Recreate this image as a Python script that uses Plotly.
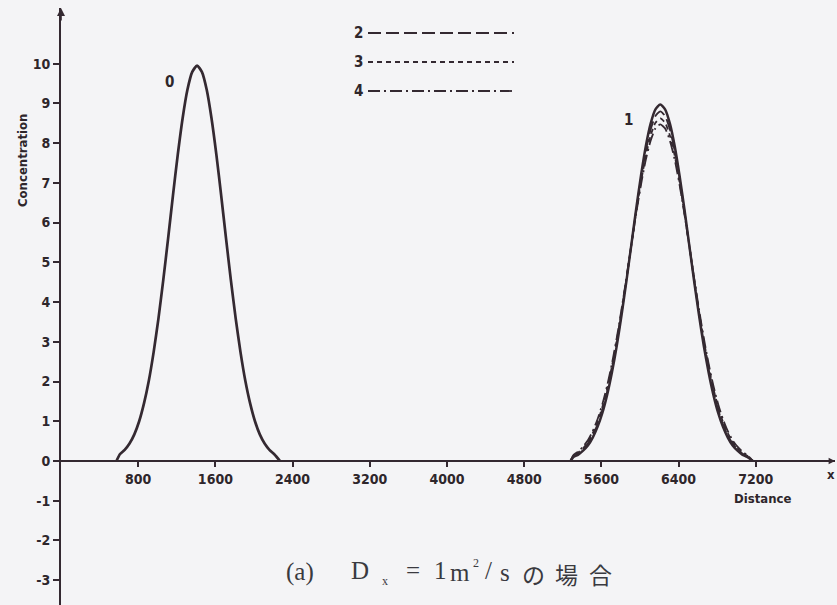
import plotly.graph_objects as go

# ---------------- data ----------------
# curve 0 : initial concentration distribution
x_curve0 = [575, 610, 660, 710, 760, 810, 860, 910, 960, 1010, 1060, 1110, 1160,
            1210, 1260, 1310, 1360, 1410, 1460, 1510, 1560, 1610, 1660, 1710,
            1760, 1810, 1860, 1910, 1960, 2010, 2060, 2110, 2160, 2210, 2270]
c_curve0 = [0.0, 0.17, 0.28, 0.44, 0.67, 1.00, 1.45, 2.02, 2.74, 3.59, 4.56, 5.60,
            6.68, 7.71, 8.62, 9.34, 9.79, 9.95, 9.79, 9.34, 8.62, 7.71, 6.68, 5.60,
            4.56, 3.59, 2.74, 2.02, 1.45, 1.00, 0.67, 0.44, 0.28, 0.17, 0.0]

# curves 1-4 : distributions after transport (shared distance samples)
x_right = [5280, 5310, 5360, 5410, 5460, 5510, 5560, 5610, 5660, 5710, 5760, 5810,
           5860, 5910, 5960, 6010, 6060, 6110, 6160, 6210, 6260, 6310, 6360, 6410,
           6460, 6510, 6560, 6610, 6660, 6710, 6760, 6810, 6860, 6910, 6960, 7010,
           7060, 7110, 7170]
c_curve1 = [0.0, 0.10, 0.16, 0.26, 0.39, 0.59, 0.86, 1.21, 1.67, 2.24, 2.91, 3.69,
            4.54, 5.44, 6.34, 7.18, 7.92, 8.49, 8.85, 8.97, 8.85, 8.49, 7.92, 7.18,
            6.34, 5.44, 4.54, 3.69, 2.91, 2.24, 1.67, 1.21, 0.86, 0.59, 0.39, 0.26,
            0.16, 0.10, 0.0]
c_curve2 = [0.0, 0.12, 0.19, 0.29, 0.44, 0.64, 0.92, 1.29, 1.75, 2.32, 2.98, 3.74,
            4.58, 5.44, 6.30, 7.11, 7.80, 8.34, 8.68, 8.80, 8.68, 8.34, 7.80, 7.11,
            6.30, 5.44, 4.58, 3.74, 2.98, 2.32, 1.75, 1.29, 0.92, 0.64, 0.44, 0.29,
            0.19, 0.12, 0.0]
c_curve3 = [0.0, 0.13, 0.21, 0.32, 0.48, 0.70, 0.98, 1.36, 1.82, 2.39, 3.05, 3.79,
            4.59, 5.43, 6.25, 7.02, 7.68, 8.19, 8.51, 8.62, 8.51, 8.19, 7.68, 7.02,
            6.25, 5.43, 4.59, 3.79, 3.05, 2.39, 1.82, 1.36, 0.98, 0.70, 0.48, 0.32,
            0.21, 0.13, 0.0]
c_curve4 = [0.0, 0.15, 0.24, 0.36, 0.52, 0.75, 1.05, 1.43, 1.90, 2.46, 3.11, 3.84,
            4.62, 5.43, 6.22, 6.95, 7.58, 8.06, 8.37, 8.47, 8.37, 8.06, 7.58, 6.95,
            6.22, 5.43, 4.62, 3.84, 3.11, 2.46, 1.90, 1.43, 1.05, 0.75, 0.52, 0.36,
            0.24, 0.15, 0.0]

x_tick_vals = [800, 1600, 2400, 3200, 4000, 4800, 5600, 6400, 7200]
x_tick_text = ["800", "1600", "2400", "3200", "4000", "4800", "5600", "6400", "7200"]
y_tick_vals = [-3, -2, -1, 0, 1, 2, 3, 4, 5, 6, 7, 8, 9, 10]
y_tick_text = ["-3", "-2", "-1", "0", "1", "2", "3", "4", "5", "6", "7", "8", "9", "10"]

legend_names = ["2", "3", "4"]
curve_labels = ["0", "1"]
caption_tokens = ["(a)", "D", "x", "=", "1", "m", "2", "/", "s", "の", "場", "合"]

# ---------------- layout helpers ----------------
W, H = 837, 605
ML, MR, MT, MB = 61, 2, 8, 0
PW, PH = W - ML - MR, H - MT - MB
Y0_PX = 461          # pixel row of concentration 0
PX_PER_Y = 39.74     # pixels per concentration unit
PX_PER_X = 0.0965    # pixels per distance unit


def pxx(x):
    return (x - ML) / PW


def pxy(y):
    return (H - MB - y) / PH


INK = "#342931"
BG = "#f4f4f6"
TICK_FONT = dict(family="DejaVu Sans Condensed, Liberation Sans Narrow, DejaVu Sans",
                 size=14, color="#2e262b", weight="bold")
LABEL_FONT = dict(family="DejaVu Sans Condensed, Liberation Sans Narrow, DejaVu Sans",
                  size=13, color="#2e262b", weight="bold")

fig = go.Figure()

fig.add_trace(go.Scatter(x=x_curve0, y=c_curve0, mode="lines", name="0",
                         line=dict(color=INK, width=2.7, shape="spline", smoothing=0.6)))

dash_styles = ["13px,5px", "5px,4px", "12px,4px,2px,4px"]
for ys, dash, nm in zip([c_curve2, c_curve3, c_curve4], dash_styles, legend_names):
    fig.add_trace(go.Scatter(x=x_right, y=ys, mode="lines", name=nm,
                             line=dict(color=INK, width=1.8, dash=dash,
                                       shape="spline", smoothing=0.6)))

fig.add_trace(go.Scatter(x=x_right, y=c_curve1, mode="lines", name="1",
                         line=dict(color=INK, width=2.5, shape="spline", smoothing=0.6)))

x_max = PW / PX_PER_X
y_top = (Y0_PX - MT) / PX_PER_Y
y_bot = (Y0_PX - (H - MB)) / PX_PER_Y

fig.update_layout(
    width=W, height=H,
    margin=dict(l=ML, r=MR, t=MT, b=MB, pad=0),
    paper_bgcolor=BG, plot_bgcolor=BG,
    showlegend=False,
    xaxis=dict(range=[0, x_max], anchor="free", position=pxy(Y0_PX),
               showline=True, linecolor=INK, linewidth=2,
               ticks="outside", ticklen=5, tickwidth=1.5, tickcolor=INK,
               tickvals=x_tick_vals, ticktext=x_tick_text, tickfont=TICK_FONT,
               showgrid=False, zeroline=False),
    yaxis=dict(range=[y_bot, y_top], domain=[0, 1],
               showline=True, linecolor=INK, linewidth=2,
               ticks="outside", ticklen=6, tickwidth=1.5, tickcolor=INK,
               tickvals=y_tick_vals, ticktext=y_tick_text, tickfont=TICK_FONT,
               showgrid=False, zeroline=False),
)

CENTER = dict(xanchor="center", yanchor="middle", showarrow=False)
ann = []
# axis titles
ann.append(dict(text="Concentration", xref="paper", yref="paper", x=pxx(22), y=pxy(161),
                textangle=-90, font=LABEL_FONT, **CENTER))
ann.append(dict(text="Distance", xref="paper", yref="paper", x=pxx(762), y=pxy(498),
                font=LABEL_FONT, **CENTER))
ann.append(dict(text="x", xref="paper", yref="paper", x=pxx(837), y=pxy(474),
                xanchor="right", yanchor="middle", showarrow=False, font=LABEL_FONT))
# axis arrow heads
ann.append(dict(x=0, y=y_top, xref="x", yref="y", ax=0, ay=14, showarrow=True,
                arrowhead=2, arrowsize=1, arrowwidth=1.6, arrowcolor=INK, text=""))
ann.append(dict(x=x_max, y=0, xref="x", yref="y", ax=-12, ay=0, showarrow=True,
                arrowhead=2, arrowsize=0.8, arrowwidth=1.6, arrowcolor=INK, text=""))
# curve labels
ann.append(dict(text=curve_labels[0], x=1120, y=9.54, xref="x", yref="y",
                font=dict(TICK_FONT, size=15), **CENTER))
ann.append(dict(text=curve_labels[1], x=5876, y=8.58, xref="x", yref="y",
                font=dict(TICK_FONT, size=15), **CENTER))

# legend (number on the left of its line sample)
leg_rows = [33, 62, 91]
shapes = []
for nm, row, dash in zip(legend_names, leg_rows, dash_styles):
    ann.append(dict(text=nm, xref="paper", yref="paper", x=pxx(358), y=pxy(row),
                    font=dict(TICK_FONT, size=15), **CENTER))
    shapes.append(dict(type="line", xref="paper", yref="paper",
                       x0=pxx(368), x1=pxx(514), y0=pxy(row), y1=pxy(row),
                       line=dict(color=INK, width=1.8, dash=dash)))

# caption "(a) Dx = 1m²/sの場合"
cap_x = [300, 360, 385, 413, 440, 460, 476, 489, 505, 533, 566, 600]
cap_y = [572, 570, 581, 570, 570, 572, 563, 570, 572, 574, 574, 574]
cap_size = [25, 25, 12, 25, 25, 25, 12, 25, 25, 23, 23, 23]
SERIF = "Liberation Serif, Noto Sans CJK JP"
for t, cx, cy, cs in zip(caption_tokens, cap_x, cap_y, cap_size):
    fam = "Noto Sans CJK JP" if t in ("の", "場", "合") else SERIF
    ann.append(dict(text=t, xref="paper", yref="paper", x=pxx(cx), y=pxy(cy),
                    font=dict(family=fam, size=cs, color="#3a3a40"), **CENTER))

fig.update_layout(annotations=ann, shapes=shapes)
fig.write_html("out.html")
